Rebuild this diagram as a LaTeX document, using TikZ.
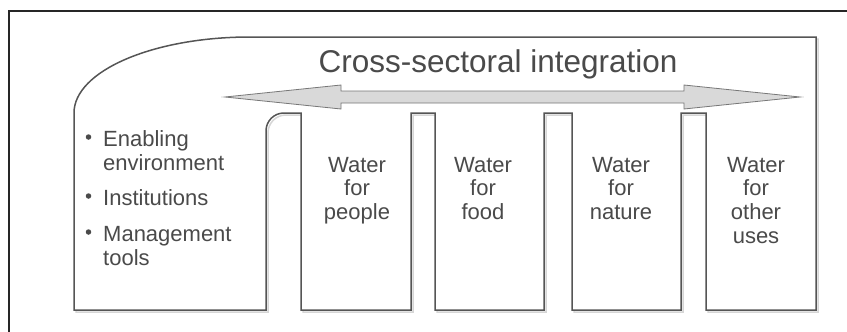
\documentclass[tikz,border=0pt]{standalone}
\usepackage{fontspec}
\setmainfont{Liberation Sans}
\definecolor{txt}{HTML}{4A4A4A}
\definecolor{ln}{HTML}{555555}
\definecolor{shd}{HTML}{D6D6D6}
\definecolor{arr}{HTML}{D9D9D9}
\definecolor{frm}{HTML}{262626}
\tikzset{
  coltext/.style={font=\fontsize{22}{24}\selectfont, text=txt, inner sep=0pt, anchor=base},
  bultext/.style={font=\fontsize{22}{24}\selectfont, text=txt, inner sep=0pt, anchor=base west},
  bulletdot/.style={circle, fill=txt, inner sep=0pt, minimum size=5.5pt},
  titletext/.style={font=\fontsize{31.5}{36}\selectfont, text=txt, inner sep=0pt, anchor=base},
  outline/.style={draw=ln, line width=1.5pt, line join=miter},
  shadowline/.style={draw=shd, line width=1.5pt},
}
\begin{document}
\begin{tikzpicture}[x=1pt,y=-1pt]
\useasboundingbox (0,0) rectangle (847,332);
% outer frame (cut off at right and bottom)
\draw[frm, line width=2.2pt] (850,11) -- (9,11) -- (9,335);
% inner outline with slots
\def\innerpath{(74,310) -- (74,113) .. controls (74,71) and (153,37) .. (250,37)
  -- (816,37) -- (816,310) -- (706,310) -- (706,113) -- (681,113) -- (681,310)
  -- (572,310) -- (572,113) -- (544,113) -- (544,310) -- (435,310) -- (435,113)
  -- (411,113) -- (411,310) -- (301,310) -- (301,113) -- (284,113)
  .. controls (274,113) and (266,121) .. (266,131) -- (266,310) -- cycle}
\begin{scope}[shift={(2,2)}]
\draw[shadowline] \innerpath;
\end{scope}
\draw[outline, fill=white] \innerpath;
% double arrow
\draw[draw=ln!80, line width=0.8pt, fill=arr]
  (225,97) -- (341,85) -- (341,91) -- (684,91) -- (684,85) -- (800,97)
  -- (684,109) -- (684,103) -- (341,103) -- (341,109) -- cycle;
% title
\node[titletext] (title) at (498,72.5) {Cross-sectoral integration};
% bullet list
\node[bulletdot] (d1) at (88.5,137) {};
\node[bulletdot] (d2) at (88.5,196) {};
\node[bulletdot] (d3) at (88.5,232) {};
\node[bultext] (b1a) at (103,146) {Enabling};
\node[bultext] (b1b) at (103,170) {environment};
\node[bultext] (b2) at (103,205) {Institutions};
\node[bultext] (b3a) at (103,241) {Management};
\node[bultext] (b3b) at (103,265) {tools};
% columns
\node[coltext] (p1) at (357,172) {Water};
\node[coltext] (p2) at (357,195.5) {for};
\node[coltext] (p3) at (357,219) {people};
\node[coltext] (f1) at (483,172) {Water};
\node[coltext] (f2) at (483,195.5) {for};
\node[coltext] (f3) at (483,219) {food};
\node[coltext] (n1) at (621,172) {Water};
\node[coltext] (n2) at (621,195.5) {for};
\node[coltext] (n3) at (621,219) {nature};
\node[coltext] (o1) at (756,172) {Water};
\node[coltext] (o2) at (756,195.5) {for};
\node[coltext] (o3) at (756,219) {other};
\node[coltext] (o4) at (756,243) {uses};
\end{tikzpicture}
\end{document}
